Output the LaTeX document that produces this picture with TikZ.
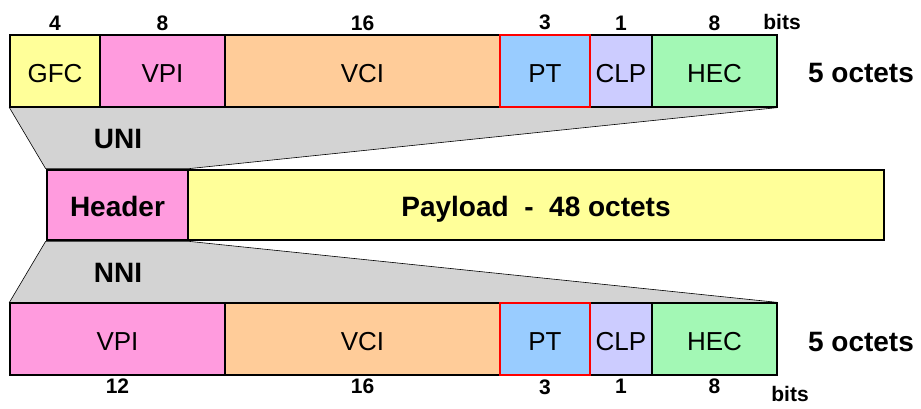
\documentclass[tikz,border=0pt]{standalone}
\usepackage{fontspec}
\setmainfont{Liberation Sans}
\usetikzlibrary{backgrounds}
\definecolor{gfccol}{HTML}{FFFF99}
\definecolor{vpicol}{HTML}{FF9BDE}
\definecolor{vcicol}{HTML}{FFCC99}
\definecolor{ptcol}{HTML}{99CCFF}
\definecolor{clpcol}{HTML}{CCCCFF}
\definecolor{heccol}{HTML}{A3F8B5}
\definecolor{wedgecol}{HTML}{D3D3D3}
\begin{document}
\begin{tikzpicture}[x=1pt, y=-1pt]

      \tikzset{field/.style={draw, line width=1.2pt, minimum height=72pt, inner sep=0pt, text height=23pt, text depth=0pt, font=\fontsize{26}{30}\selectfont},
               bitnum/.style={font=\fontsize{21}{25}\selectfont\bfseries},
               bigbold/.style={font=\fontsize{28}{32}\selectfont\bfseries},
               cellpart/.style={draw, line width=2.8pt, minimum height=70pt, inner sep=0pt, text height=22.5pt, text depth=0pt, bigbold},
               redbox/.style={field, draw=red, line width=2.8pt},
               wedge/.style={fill=wedgecol, draw=black, line width=0.6pt}}
      \useasboundingbox (0,0) rectangle (921,409);
%% UNI header
      	\node[field, fill=gfccol, minimum width=90pt, label distance=2pt, label={[bitnum]above:4}] (gfc) at (55,71) {GFC};
      	\node[field, fill=vpicol, minimum width=125pt, label distance=2pt, label={[bitnum]above:8}] (vpi) at (162.5,71) {VPI};
      	\node[field, fill=vcicol, minimum width=275pt, label distance=2pt, label={[bitnum]above:16}] (vci) at (362.5,71) {VCI};
      	\node[field, fill=clpcol, minimum width=62pt, label distance=2pt, label={[bitnum]above:1}] (clp) at (621,71) {CLP};
      	\node[field, fill=heccol, minimum width=125pt, label distance=2pt, label={[bitnum]above:8}] (hec) at (714.5,71) {HEC};
      	\node[redbox, fill=ptcol, minimum width=90pt, label distance=2pt, label={[bitnum]above:3}] (pt) at (545,71) {PT};
      	\node[bitnum] (bits) at (782,22) {bits};
      	\node[bigbold] (octets) at (861,73) {5 octets};
%% Cell
      	\node[cellpart, fill=vpicol, minimum width=141pt] (header) at (117.5,205) {Header};
      	\node[cellpart, fill=gfccol, minimum width=696pt] (payload) at (536,205) {Payload\ \ -\ \ 48 octets};
%% NNI header
      	\node[field, fill=vpicol, minimum width=215pt, label distance=8pt, label={[bitnum]below:12}] (vpi2) at (117.5,339) {VPI};
      	\node[field, fill=vcicol, minimum width=275pt, label distance=8pt, label={[bitnum]below:16}] (vci2) at (362.5,339) {VCI};
      	\node[field, fill=clpcol, minimum width=62pt, label distance=8pt, label={[bitnum]below:1}] (clp2) at (621,339) {CLP};
      	\node[field, fill=heccol, minimum width=125pt, label distance=8pt, label={[bitnum]below:8}] (hec2) at (714.5,339) {HEC};
      	\node[redbox, fill=ptcol, minimum width=90pt, label distance=8pt, label={[bitnum]below:3}] (pt2) at (545,339) {PT};
      	\node[bitnum] (bits2) at (790,394) {bits};
      	\node[bigbold] (octets2) at (861,342) {5 octets};
%Wedges
      \begin{scope}[on background layer]
		\path[wedge] (gfc.south west) -- (hec.south east) -- (header.north east) -- (header.north west) -- cycle;
		\path[wedge] (header.south west) -- (header.south east) -- (hec2.north east) -- (vpi2.north west) -- cycle;
      \end{scope}
      	\node[bigbold] (uni) at (118,139.5) {UNI};
      	\node[bigbold] (nni) at (118,273) {NNI};

	\end{tikzpicture}
\end{document}
